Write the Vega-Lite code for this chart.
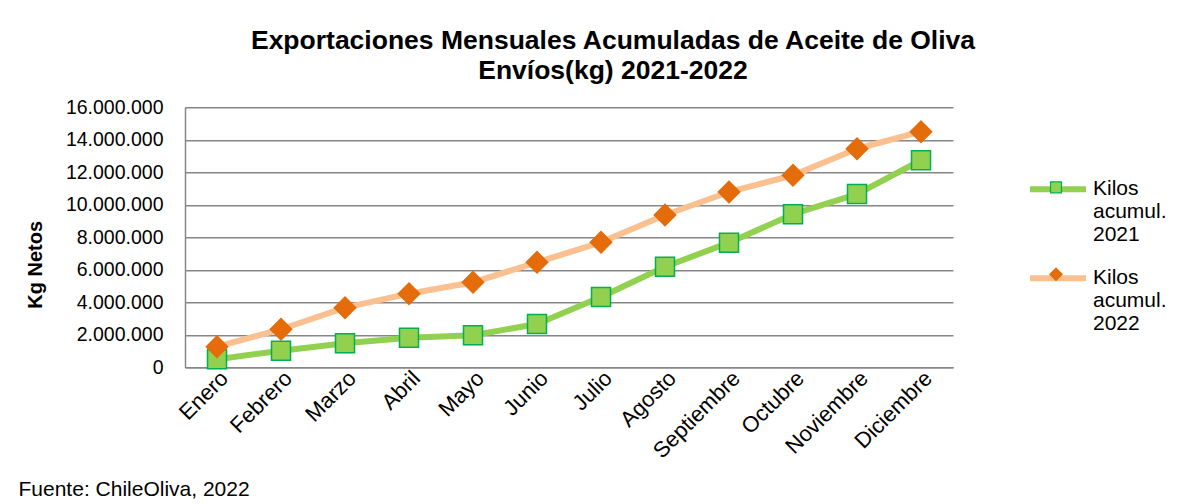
{
  "$schema": "https://vega.github.io/schema/vega-lite/v6.json",
  "width": 768,
  "height": 260,
  "autosize": {"type": "none"},
  "padding": {"left": 185, "top": 107.3, "right": 232, "bottom": 136.7},
  "background": "white",
  "title": {
    "text": ["Exportaciones Mensuales Acumuladas de Aceite de Oliva", "Envíos(kg)  2021-2022"],
    "font": "Liberation Sans",
    "fontSize": 26.5,
    "fontWeight": "bold",
    "color": "#000000",
    "lineHeight": 30,
    "anchor": "middle",
    "frame": "group",
    "dx": 44,
    "offset": 13
  },
  "data": {
    "values": [
      {"mes": "Enero", "serie": "Kilos acumul. 2021", "kg": 500000},
      {"mes": "Febrero", "serie": "Kilos acumul. 2021", "kg": 1020000},
      {"mes": "Marzo", "serie": "Kilos acumul. 2021", "kg": 1480000},
      {"mes": "Abril", "serie": "Kilos acumul. 2021", "kg": 1820000},
      {"mes": "Mayo", "serie": "Kilos acumul. 2021", "kg": 1970000},
      {"mes": "Junio", "serie": "Kilos acumul. 2021", "kg": 2660000},
      {"mes": "Julio", "serie": "Kilos acumul. 2021", "kg": 4330000},
      {"mes": "Agosto", "serie": "Kilos acumul. 2021", "kg": 6190000},
      {"mes": "Septiembre", "serie": "Kilos acumul. 2021", "kg": 7670000},
      {"mes": "Octubre", "serie": "Kilos acumul. 2021", "kg": 9420000},
      {"mes": "Noviembre", "serie": "Kilos acumul. 2021", "kg": 10660000},
      {"mes": "Diciembre", "serie": "Kilos acumul. 2021", "kg": 12740000},
      {"mes": "Enero", "serie": "Kilos acumul. 2022", "kg": 1270000},
      {"mes": "Febrero", "serie": "Kilos acumul. 2022", "kg": 2340000},
      {"mes": "Marzo", "serie": "Kilos acumul. 2022", "kg": 3670000},
      {"mes": "Abril", "serie": "Kilos acumul. 2022", "kg": 4530000},
      {"mes": "Mayo", "serie": "Kilos acumul. 2022", "kg": 5230000},
      {"mes": "Junio", "serie": "Kilos acumul. 2022", "kg": 6460000},
      {"mes": "Julio", "serie": "Kilos acumul. 2022", "kg": 7690000},
      {"mes": "Agosto", "serie": "Kilos acumul. 2022", "kg": 9370000},
      {"mes": "Septiembre", "serie": "Kilos acumul. 2022", "kg": 10790000},
      {"mes": "Octubre", "serie": "Kilos acumul. 2022", "kg": 11820000},
      {"mes": "Noviembre", "serie": "Kilos acumul. 2022", "kg": 13450000},
      {"mes": "Diciembre", "serie": "Kilos acumul. 2022", "kg": 14500000}
    ]
  },
  "encoding": {
    "x": {
      "field": "mes",
      "type": "ordinal",
      "sort": ["Enero", "Febrero", "Marzo", "Abril", "Mayo", "Junio", "Julio", "Agosto", "Septiembre", "Octubre", "Noviembre", "Diciembre"],
      "scale": {"type": "point", "padding": 0.5},
      "axis": {
        "title": "Fuente: ChileOliva, 2022",
        "titleX": -167,
        "titleY": 127.7,
        "titleAlign": "left",
        "titleAnchor": "start",
        "titleBaseline": "alphabetic",
        "titleAngle": 0,
        "titleFontSize": 21,
        "titleFontWeight": "normal",
        "labelAngle": -45,
        "labelFontSize": 22,
        "labelPadding": 0,
        "ticks": false,
        "grid": false,
        "labelOverlap": false
      }
    },
    "y": {
      "field": "kg",
      "type": "quantitative",
      "scale": {"domain": [0, 16000000], "nice": false, "zero": true},
      "axis": {
        "title": "Kg Netos",
        "titleFontSize": 20,
        "titleFontWeight": "bold",
        "titleAngle": -90,
        "titleX": -150,
        "titleY": 157,
        "titleAlign": "center",
        "titleBaseline": "middle",
        "values": [0, 2000000, 4000000, 6000000, 8000000, 10000000, 12000000, 14000000, 16000000],
        "format": ",d",
        "labelFontSize": 19.5,
        "labelPadding": 22,
        "ticks": false,
        "grid": true
      }
    }
  },
  "layer": [
    {
      "mark": {"type": "line", "strokeWidth": 6, "strokeJoin": "round", "strokeCap": "round"},
      "encoding": {
        "color": {
          "field": "serie",
          "type": "nominal",
          "scale": {"domain": ["Kilos acumul. 2021", "Kilos acumul. 2022"], "range": ["#92D050", "#FAC090"]},
          "legend": {
            "title": null,
            "orient": "none",
            "legendX": 842,
            "legendY": 51,
            "padding": 0,
            "symbolType": "stroke",
            "symbolSize": 3136,
            "symbolStrokeWidth": 6,
            "labelOffset": 4,
            "labelFontSize": 21,
            "labelExpr": "split(datum.label, ' ')",
            "rowPadding": 2,
            "encode": {"labels": {"lineHeight": {"value": 24}}}
          }
        }
      }
    },
    {
      "mark": {"type": "point", "filled": true, "opacity": 1, "size": 9400, "strokeWidth": 1.5},
      "encoding": {
        "fill": {
          "field": "serie",
          "type": "nominal",
          "scale": {"range": ["#92D050", "#E46C0A"]}
        },
        "stroke": {
          "field": "serie",
          "type": "nominal",
          "scale": {"range": ["#00B050", "#E46C0A"]}
        },
        "shape": {
          "field": "serie",
          "type": "nominal",
          "scale": {"range": ["M-0.196,-0.196H0.196V0.196H-0.196Z", "M-0.22,0L0,-0.22L0.22,0L0,0.22Z"]},
          "legend": {
            "title": null,
            "orient": "none",
            "legendX": 842,
            "legendY": 51,
            "padding": 0,
            "symbolSize": 3136,
            "symbolStrokeWidth": 1.2,
            "labelOffset": 4,
            "labelFontSize": 21,
            "labelExpr": "[' ', ' ', ' ']",
            "rowPadding": 2,
            "encode": {"labels": {"lineHeight": {"value": 24}}}
          }
        }
      }
    }
  ],
  "config": {
    "locale": {"number": {"decimal": ",", "thousands": ".", "grouping": [3], "currency": ["$", ""]}},
    "font": "Liberation Sans",
    "view": {"stroke": null},
    "axis": {
      "labelFont": "Liberation Sans",
      "titleFont": "Liberation Sans",
      "labelColor": "#000000",
      "titleColor": "#000000",
      "domainColor": "#868686",
      "domainWidth": 1.5,
      "gridColor": "#868686",
      "gridWidth": 1.5
    },
    "legend": {
      "labelFont": "Liberation Sans",
      "labelColor": "#000000"
    }
  }
}
